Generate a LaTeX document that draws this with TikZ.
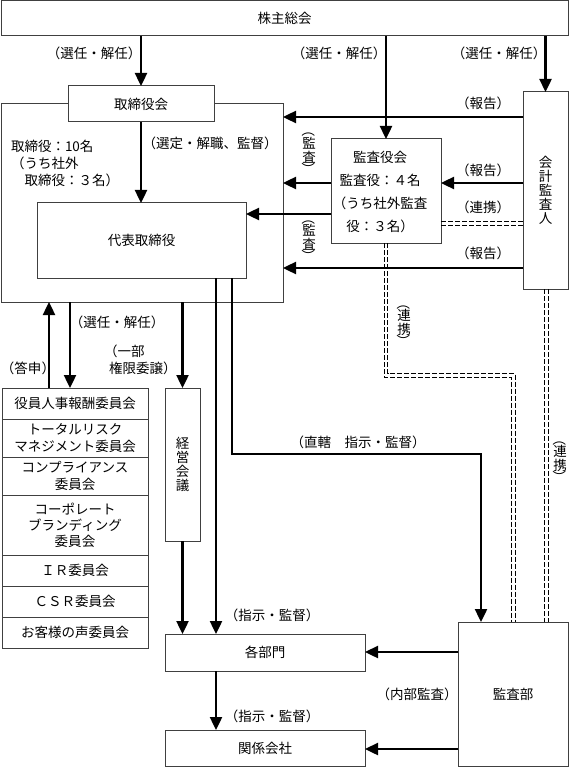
\documentclass[tikz,border=0pt]{standalone}
\usepackage{fontspec}
\usepackage{graphicx}
\setmainfont{Noto Sans CJK JP}
\usetikzlibrary{arrows.meta}
\newcommand{\vpar}[1]{\rotatebox[origin=c]{-90}{#1}}
\begin{document}
\begin{tikzpicture}[x=1pt,y=-1pt,
  box/.style={draw=black!75, line width=1pt, inner sep=0pt, outer sep=0pt, fill=white, align=center},
  txt/.style={inner sep=0pt, outer sep=0pt},
  vtxt/.style={inner sep=0pt, outer sep=0pt, align=center, font=\fontsize{13.5}{14}\selectfont},
  vlab/.style={inner sep=0pt, outer sep=0pt, align=center, font={\fontsize{13.5}{13}\selectfont\lineskiplimit=-30pt}},
  arr/.style={line width=2.4pt, -{Triangle[length=13pt,width=12pt]}},
  dsh/.style={line width=1pt, dash pattern=on 5pt off 2pt},
  every node/.append style={font=\fontsize{13.5}{17}\selectfont}
]
\useasboundingbox (0,0) rectangle (569,767);

% coordinates
\coordinate (xtoushin) at (49,0);
\coordinate (xsennin) at (70,0);
\coordinate (xd1) at (216,0);
\coordinate (xd2) at (232,0);
\coordinate (xkansabuin) at (481,0);
\coordinate (xdashL) at (384.3,0);
\coordinate (xdashR) at (387.7,0);
\coordinate (xdash2L) at (511.8,0);
\coordinate (xdash2R) at (515.2,0);
\coordinate (xk1) at (544.8,0);
\coordinate (xk2) at (548.2,0);
\coordinate (y1) at (0,117);
\coordinate (y2) at (0,183);
\coordinate (y3) at (0,214);
\coordinate (y4a) at (0,221.7);
\coordinate (y4b) at (0,225.2);
\coordinate (y5) at (0,268);
\coordinate (ybend) at (0,454);
\coordinate (cL1) at (384.3,377.2);
\coordinate (cL2) at (511.8,377.2);
\coordinate (cR1) at (387.7,373.8);
\coordinate (cR2) at (515.2,373.8);
\coordinate (ykb) at (0,652);
\coordinate (ykk) at (0,749);

% boxes
\node[box, minimum width=567, minimum height=35] (kabu) at (284.5,18.5) {株主総会};
\node[box, minimum width=281.5, minimum height=198] (board) at (142.25,203) {};
\node[box, minimum width=146, minimum height=36] (tori) at (141,104) {取締役会};
\node[box, minimum width=209, minimum height=75] (daihyo) at (141.5,240.5) {代表取締役};
\node[box, minimum width=110, minimum height=104] (kansayaku) at (386,191) {};
\node[txt, align=center, font=\fontsize{13.5}{23}\selectfont] (kansayakutxt) at (380,192) {監査役会\\監査役：４名\\（うち社外監査\\役：３名）};
\node[box, minimum width=45, minimum height=197] (kaikei) at (545.5,190.5) {};
\node[vtxt] (kaikeitxt) at (kaikei.center) {会\\計\\監\\査\\人};

\node[box, minimum width=146, minimum height=31] (c1) at (75,403.5) {役員人事報酬委員会};
\node[box, minimum width=146, minimum height=38] (c2) at (75,438) {トータルリスク\\マネジメント委員会};
\node[box, minimum width=146, minimum height=38] (c3) at (75,476) {コンプライアンス\\委員会};
\node[box, minimum width=146, minimum height=60, font=\fontsize{13.5}{16}\selectfont] (c4) at (75,525) {コーポレート\\ブランディング\\委員会};
\node[box, minimum width=146, minimum height=31] (c5) at (75,570.5) {ＩＲ委員会};
\node[box, minimum width=146, minimum height=31] (c6) at (75,601.5) {ＣＳＲ委員会};
\node[box, minimum width=146, minimum height=31] (c7) at (75,632.5) {お客様の声委員会};

\node[box, minimum width=35, minimum height=153] (keiei) at (182.5,464.5) {};
\node[vtxt] (keieitxt) at (keiei.center) {経\\営\\会\\議};

\node[box, minimum width=200, minimum height=37] (kakubumon) at (265,652.5) {各部門};
\node[box, minimum width=200, minimum height=36] (kankei) at (265,748) {関係会社};
\node[box, minimum width=110, minimum height=144] (kansabu) at (513,694) {監査部};

% texts inside board
\node[txt, anchor=west, align=left] (boardtxt) at (11,163) {取締役：10名\\（うち社外\\　取締役：３名）};

% connectors
\draw[arr] (kabu.south -| tori.north) -- (tori.north);
\draw[arr] (kabu.south -| kansayaku.north) -- (kansayaku.north);
\draw[arr] (kabu.south -| kaikei.north) -- (kaikei.north);
\draw[arr] (tori.south) -- (tori.south |- daihyo.north);
\draw[arr] (kaikei.west |- y1) -- (board.east |- y1);
\draw[arr] (kansayaku.west |- y2) -- (board.east |- y2);
\draw[arr] (kansayaku.west |- y3) -- (daihyo.east |- y3);
\draw[arr] (kaikei.west |- y2) -- (kansayaku.east |- y2);
\draw[dsh] (kansayaku.east |- y4a) -- (kaikei.west |- y4a);
\draw[dsh] (kansayaku.east |- y4b) -- (kaikei.west |- y4b);
\draw[arr] (kaikei.west |- y5) -- (board.east |- y5);
\draw[dsh] (kansayaku.south -| xdashL) -- (cL1) -- (cL2) -- (kansabu.north -| xdash2L);
\draw[dsh] (kansayaku.south -| xdashR) -- (cR1) -- (cR2) -- (kansabu.north -| xdash2R);
\draw[dsh] (kaikei.south -| xk1) -- (kansabu.north -| xk1);
\draw[dsh] (kaikei.south -| xk2) -- (kansabu.north -| xk2);
\draw[arr] (daihyo.south -| xd1) -- (kakubumon.north -| xd1);
\draw[arr, line join=miter] (daihyo.south -| xd2) -- (xd2 |- ybend) -- (xkansabuin |- ybend) -- (kansabu.north -| xkansabuin);
\draw[arr] (c1.north -| xtoushin) -- (board.south -| xtoushin);
\draw[arr] (board.south -| xsennin) -- (c1.north -| xsennin);
\draw[arr] (board.south -| keiei.north) -- (keiei.north);
\draw[arr] (keiei.south) -- (kakubumon.north -| keiei.south);
\draw[arr] (kakubumon.south -| xd1) -- (kankei.north -| xd1);
\draw[arr] (kansabu.west |- ykb) -- (kakubumon.east |- ykb);
\draw[arr] (kansabu.west |- ykk) -- (kankei.east |- ykk);

% labels
\node[txt] (l1) at (94,53) {（選任・解任）};
\node[txt] (l2) at (339,53) {（選任・解任）};
\node[txt] (l3) at (499,53) {（選任・解任）};
\node[txt] (l4) at (210,143) {（選定・解職、監督）};
\node[txt] (l5) at (483,103) {（報告）};
\node[txt] (l6) at (483,170) {（報告）};
\node[txt] (l7) at (483,207) {（連携）};
\node[txt] (l8) at (483,253) {（報告）};
\node[vlab] (l9) at (309,150) {\vpar{（}\\[-0.5pt]監\\[1pt]査\\[-1pt]\vpar{）}};
\node[vlab] (l10) at (309,237) {\vpar{（}\\[-0.5pt]監\\[1pt]査\\[-1pt]\vpar{）}};
\node[txt] (l11) at (117,322) {（選任・解任）};
\node[txt, anchor=west] (l12) at (1,368) {（答申）};
\node[txt, anchor=west, align=left] (l13) at (104,360) {（一部\\\hspace{5pt}権限委譲）};
\node[vlab] (l14) at (404,322) {\vpar{（}\\[-0.5pt]連\\[1pt]携\\[-1pt]\vpar{）}};
\node[vlab] (l15) at (560,458) {\vpar{（}\\[-0.5pt]連\\[1pt]携\\[-1pt]\vpar{）}};
\node[txt] (l16) at (358,442) {（直轄　指示・監督）};
\node[txt] (l17) at (272,615) {（指示・監督）};
\node[txt] (l18) at (272,716) {（指示・監督）};
\node[txt] (l19) at (417,694) {（内部監査）};
\end{tikzpicture}
\end{document}
